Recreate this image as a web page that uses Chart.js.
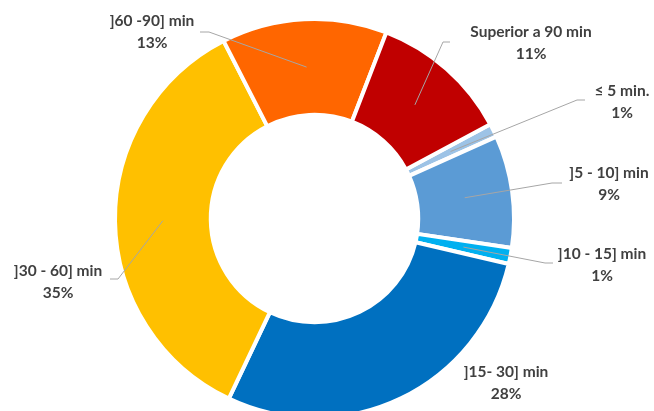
<!DOCTYPE html>
<html>
<head>
<meta charset="utf-8">
<script src="https://cdn.jsdelivr.net/npm/chart.js@4"></script>
<style>
  html, body { margin: 0; padding: 0; background: #fff; overflow: hidden; }
  #wrap { width: 654px; height: 420px; }
</style>
</head>
<body>
<div id="wrap"><canvas id="tiemposChart"></canvas></div>
<script>
const categorias = ['≤ 5 min.', ']5 - 10] min', ']10 - 15] min', ']15- 30] min', ']30 - 60] min', ']60 -90] min', 'Superior a 90 min'];
const valores = [1.1, 9.1, 1.3, 28.4, 35.4, 13.4, 11.3];
const colores = ['#9DC3E6', '#5B9BD5', '#00B0F0', '#0070C0', '#FFC000', '#FF6600', '#C00000'];

// where each label sits (text centre x, first line y) and the elbow of its leader line
const etiquetas = [
    { x: 622, y: 91, linea: [585, 100, 577, 100] },
    { x: 609, y: 173, linea: [562, 183, 552, 183] },
    { x: 602, y: 254, linea: [553, 263, 545, 263] },
    { x: 506, y: 372, linea: null },
    { x: 58, y: 271, linea: [110, 279, 118, 279] },
    { x: 152, y: 21, linea: [200, 32, 209, 32] },
    { x: 531, y: 32, linea: [450, 42, 443, 42] }
];

const etiquetasPlugin = {
    id: 'etiquetas',
    afterDraw(chart) {
        const ctx = chart.ctx;
        const meta = chart.getDatasetMeta(0);
        const total = valores.reduce((a, b) => a + b, 0);
        ctx.save();
        meta.data.forEach((arc, i) => {
            const e = etiquetas[i];
            if (e.linea) {
                const p = arc.getCenterPoint();
                ctx.strokeStyle = '#A6A6A6';
                ctx.lineWidth = 1;
                ctx.beginPath();
                ctx.moveTo(e.linea[0], e.linea[1]);
                ctx.lineTo(e.linea[2], e.linea[3]);
                ctx.lineTo(p.x, p.y);
                ctx.stroke();
            }
            ctx.fillStyle = '#404040';
            ctx.font = 'bold 15.5px Lato';
            ctx.textAlign = 'center';
            ctx.textBaseline = 'middle';
            ctx.fillText(categorias[i], e.x, e.y);
            ctx.fillText(Math.round(valores[i] / total * 100) + '%', e.x, e.y + 22);
        });
        ctx.restore();
    }
};

const ctx = document.getElementById('tiemposChart').getContext('2d');
const chart = new Chart(ctx, {
    type: 'doughnut',
    data: {
        labels: categorias,
        datasets: [{
            data: valores,
            backgroundColor: colores,
            borderColor: '#ffffff',
            borderWidth: 4,
            hoverOffset: 0
        }]
    },
    options: {
        responsive: true,
        maintainAspectRatio: false,
        animation: false,
        rotation: 61.8,
        cutout: '52%',
        layout: { padding: { top: 17, left: 113, right: 138, bottom: 0 } },
        plugins: {
            legend: { display: false },
            tooltip: { enabled: false }
        }
    },
    plugins: [etiquetasPlugin]
});
</script>
</body>
</html>
